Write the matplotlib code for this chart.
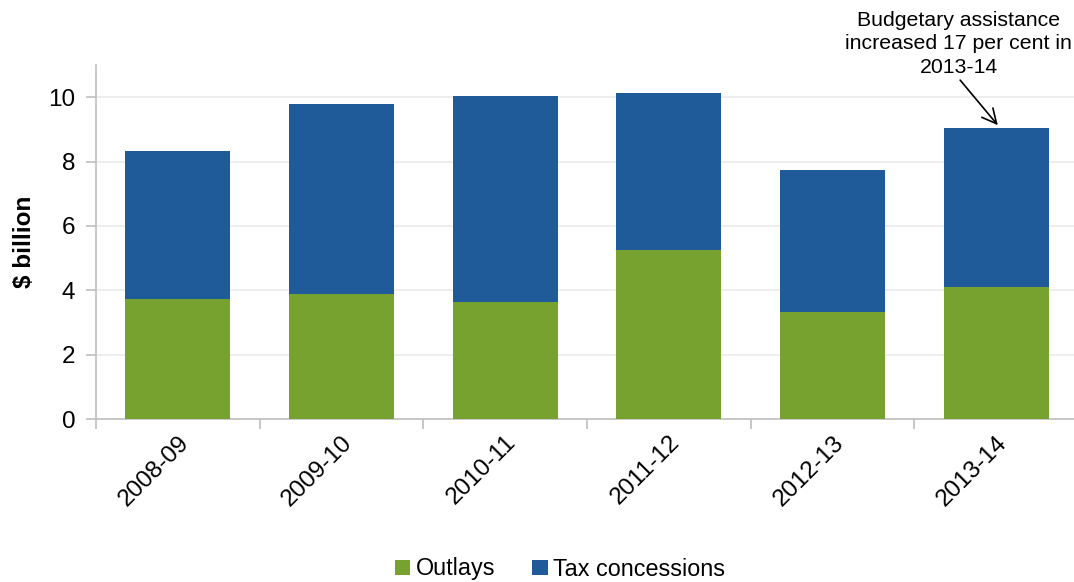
import matplotlib
matplotlib.use("Agg")
import matplotlib.pyplot as plt
import numpy as np

plt.rcParams['font.family'] = ['Liberation Sans', 'DejaVu Sans']

years = ["2008-09", "2009-10", "2010-11", "2011-12", "2012-13", "2013-14"]
outlays = [3.73, 3.87, 3.63, 5.26, 3.34, 4.10]
tax_concessions = [4.61, 5.92, 6.41, 4.88, 4.39, 4.95]

green = "#78A22F"
blue = "#1F5B99"
grid_c = "#EBEBEB"
axis_c = "#BFBFBF"

fig = plt.figure(figsize=(10.74, 5.82), dpi=100)
ax = fig.add_axes([96/1074, 1 - 419/582, (1078-96)/1074, (419-65)/582])

x = np.arange(len(years))
ax.bar(x, outlays, width=0.64, color=green, label="Outlays", zorder=3)
ax.bar(x, tax_concessions, width=0.64, bottom=outlays, color=blue,
       label="Tax concessions", zorder=3)

ax.set_xlim(-0.5, len(years) - 0.5)
ax.set_ylim(0, 11)
ax.set_yticks([0, 2, 4, 6, 8, 10])
ax.yaxis.grid(True, color=grid_c, linewidth=1.2, zorder=0)
ax.set_axisbelow(True)

ax.set_xticks(x)
ax.set_xticklabels(years, rotation=45, ha='right', rotation_mode='anchor', fontsize=17.5)
ax.tick_params(axis='x', length=0, pad=9)
ax.set_xticks(np.arange(-0.5, len(years) + 0.5, 1), minor=True)
ax.tick_params(axis='x', which='minor', length=7, color=axis_c, width=1.2)
ax.tick_params(axis='y', labelsize=17.5, length=7, color=axis_c, width=1.2, pad=8)

for s in ['top', 'right']:
    ax.spines[s].set_visible(False)
for s in ['left', 'bottom']:
    ax.spines[s].set_color(axis_c)
    ax.spines[s].set_linewidth(1.2)

ax.set_ylabel("$ billion", fontsize=17.5, fontweight='bold', labelpad=9)

ax.text(4.77, 11.66, "Budgetary assistance\nincreased 17 per cent in\n2013-14",
        ha='center', va='center', fontsize=15.3, linespacing=1.3, clip_on=False)
ax.annotate("", xy=(5.01, 9.13), xytext=(4.78, 10.53), textcoords='data',
            annotation_clip=False,
            arrowprops=dict(arrowstyle='->', color='black', lw=1.2,
                            shrinkA=0, shrinkB=0, mutation_scale=26))

fig.legend(loc='center', bbox_to_anchor=(560/1074, 1 - 569/582), ncol=2,
           frameon=False, fontsize=16.8, handlelength=0.65, handleheight=0.65,
           handletextpad=0.25, columnspacing=1.6)

fig.savefig("out.png", dpi=100)
